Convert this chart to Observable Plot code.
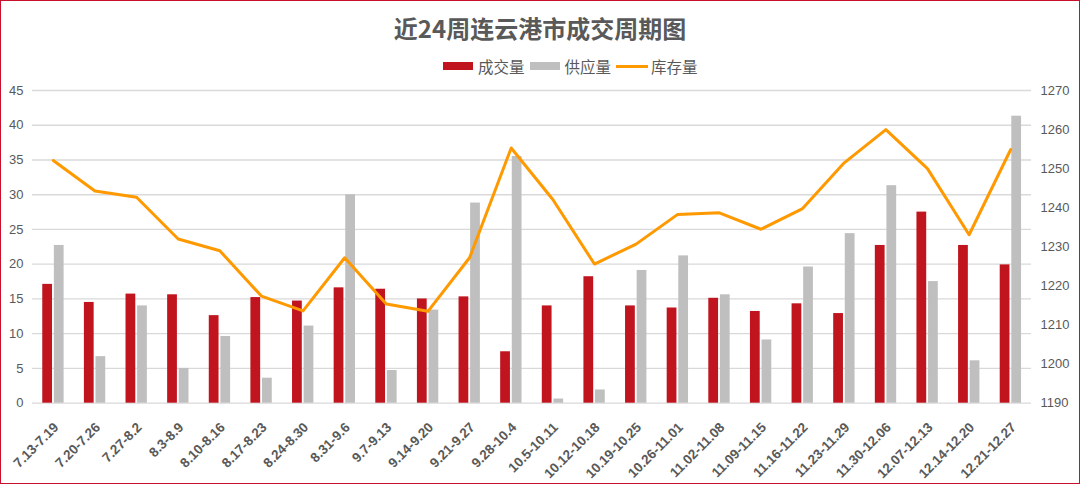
<!DOCTYPE html>
<html><head><meta charset="utf-8">
<script src="https://cdn.jsdelivr.net/npm/d3@7"></script>
<script src="https://cdn.jsdelivr.net/npm/@observablehq/plot@0.6"></script>
<style>
html,body{margin:0;padding:0;background:#fff;}
#frame{position:relative;width:1080px;height:484px;box-sizing:border-box;border:1px solid #c8102e;overflow:hidden;font-family:"Liberation Sans","Noto Sans CJK SC",sans-serif;}
#title{position:absolute;left:0;top:11px;width:100%;text-align:center;font-weight:bold;font-size:24px;font-family:"Noto Sans CJK SC",sans-serif;color:#595959;line-height:32px;}
#legend{position:absolute;left:442px;top:55px;display:flex;align-items:center;font-size:15.5px;font-family:"Noto Sans CJK SC",sans-serif;color:#595959;line-height:20px;}
.item{display:flex;align-items:center;margin-right:5px;}
.sw{width:30px;height:8px;margin-right:5px;}
.ln{width:32px;height:3px;margin-right:3px;}
#chart{position:absolute;left:-1px;top:79px;}
</style>
</head><body>
<div id="frame">
  <div id="title">近24周连云港市成交周期图</div>
  <div id="legend"></div>
  <div id="chart"></div>
</div>
<script>
const weeks = ["7.13-7.19","7.20-7.26","7.27-8.2","8.3-8.9","8.10-8.16","8.17-8.23","8.24-8.30","8.31-9.6","9.7-9.13","9.14-9.20","9.21-9.27","9.28-10.4","10.5-10.11","10.12-10.18","10.19-10.25","10.26-11.01","11.02-11.08","11.09-11.15","11.16-11.22","11.23-11.29","11.30-12.06","12.07-12.13","12.14-12.20","12.21-12.27"];
const sales = [17.1,14.5,15.7,15.6,12.6,15.2,14.7,16.6,16.4,15.0,15.3,7.4,14.0,18.2,14.0,13.7,15.1,13.2,14.3,12.9,22.7,27.5,22.7,19.9];
const supply = [22.7,6.7,14.0,5.0,9.6,3.6,11.1,30.0,4.7,13.4,28.8,35.5,0.6,1.9,19.1,21.2,15.6,9.1,19.6,24.4,31.3,17.5,6.1,41.3];
const stock = [1252.1,1244.3,1242.7,1232.0,1229.0,1217.4,1213.6,1227.2,1215.4,1213.5,1227.2,1255.3,1242.1,1225.6,1230.7,1238.3,1238.7,1234.5,1239.8,1251.5,1260.0,1250.0,1233.1,1254.9];
const leftTicks = [0,5,10,15,20,25,30,35,40,45];
const rightTicks = [1190,1200,1210,1220,1230,1240,1250,1260,1270];
const seriesNames = ["成交量","供应量","库存量"];
const colors = ["#c0141f","#bfbfbf","#ff9900"];

// legend
const lg = document.getElementById("legend");
seriesNames.forEach((n,i)=>{
  const it = document.createElement("div"); it.className="item";
  const sw = document.createElement("div"); sw.className = i<2 ? "sw" : "ln"; sw.style.background = colors[i];
  const tx = document.createElement("span"); tx.textContent = n;
  it.appendChild(sw); it.appendChild(tx); lg.appendChild(it);
});

const rMin = 1190, rMax = 1270, lMax = 45;
const toLeft = v => (v - rMin) / (rMax - rMin) * lMax;
const fromLeft = d => Math.round(d / lMax * (rMax - rMin) + rMin);

const salesData = weeks.map((w,i)=>({week:w, value:sales[i]}));
const supplyData = weeks.map((w,i)=>({week:w, value:supply[i]}));
const stockData = weeks.map((w,i)=>({week:w, value:toLeft(stock[i])}));

const chart = Plot.plot({
  width:1080, height:405,
  marginTop:10, marginBottom:82, marginLeft:32, marginRight:48,
  style:{fontFamily:'"Liberation Sans","Noto Sans CJK SC",sans-serif', background:"transparent"},
  x:{type:"band", domain:weeks, paddingInner:0, paddingOuter:0, align:0.5, round:false, label:null},
  y:{domain:[0,lMax], label:null},
  marks:[
    Plot.gridY(leftTicks,{stroke:"#d9d9d9", strokeOpacity:1, strokeWidth:1.3}),
    Plot.barY(salesData,{x:"week", y:"value", fill:colors[0], insetLeft:10.3, insetRight:21.6}),
    Plot.barY(supplyData,{x:"week", y:"value", fill:colors[1], insetLeft:21.9, insetRight:10.0}),
    Plot.line(stockData,{x:"week", y:"value", stroke:colors[2], strokeWidth:3}),
    Plot.axisY(leftTicks,{anchor:"left", tickSize:0, tickPadding:9, label:null, fontSize:13, fill:"#595959"}),
    Plot.axisY(rightTicks.map(toLeft),{anchor:"right", tickSize:0, tickPadding:9, label:null, fontSize:13, fill:"#595959", tickFormat:d=>String(fromLeft(d))}),
    Plot.axisX({tickRotate:-45, tickSize:0, tickPadding:22, dx:3, label:null, fontSize:13.5, fontWeight:"bold", fill:"#595959"})
  ]
});
document.getElementById("chart").appendChild(chart);
</script>
</body></html>
